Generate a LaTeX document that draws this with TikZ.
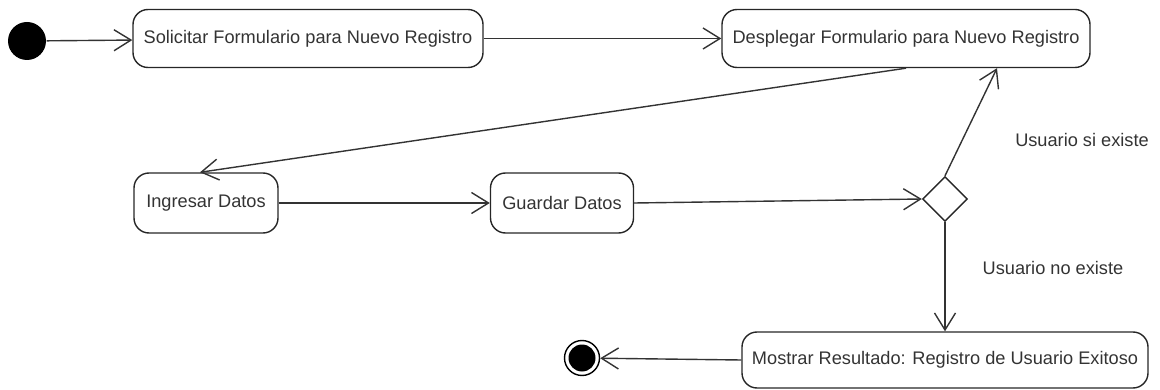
\documentclass[tikz,border=0pt]{standalone}
\usepackage{fontspec}
\setmainfont{Liberation Sans}
\usetikzlibrary{arrows.meta,shapes.geometric}
\begin{document}
\begin{tikzpicture}[x=1pt,y=-1pt,
  line width=1.4pt,
  font=\fontsize{18.2}{21}\selectfont,
  act/.style={draw=black!85, rounded corners=15pt, text=black!80, inner sep=0pt},
  flow/.style={draw=black!80, -{Straight Barb[length=17pt,width=21pt,line width=1.4pt]}},
  lbl/.style={text=black!80, inner sep=0pt}]
\useasboundingbox (0,0) rectangle (1160,390);

% initial and final nodes
\node[circle, fill=black, minimum size=38pt, inner sep=0pt] (start) at (27,41) {};
\node[circle, draw=black, line width=1.4pt, minimum size=35pt, inner sep=0pt] (stop) at (582,358) {};
\fill[black] (stop.center) circle (13.5pt);

% activities
\node[act, minimum width=350pt, minimum height=58pt] (solicitar) at (308,38.5) {Solicitar Formulario para Nuevo Registro};
\node[act, minimum width=368pt, minimum height=58pt] (desplegar) at (906,38.5) {Desplegar Formulario para Nuevo Registro};
\node[act, minimum width=144pt, minimum height=60pt] (ingresar) at (206,203) {Ingresar Datos};
\node[act, minimum width=143pt, minimum height=60pt] (guardar) at (562,203) {Guardar Datos};
\node[act, minimum width=406pt, minimum height=56pt] (mostrar) at (945,360) {Mostrar Resultado: Registro de Usuario Exitoso};

% decision
\node[diamond, draw=black!85, minimum width=45pt, minimum height=45pt, inner sep=0pt] (dec) at (945,199) {};

% control flows
\draw[flow] (start) -- (solicitar);
\draw[flow] (solicitar) -- (desplegar);
\draw[flow] (desplegar.south) -- ([xshift=-6pt]ingresar.north);
\draw[flow] (ingresar) -- (guardar);
\draw[flow] (guardar.east) -- (dec.west);
\draw[flow] (dec.north) -- ([xshift=91pt]desplegar.south);
\draw[flow] (dec.south) -- (mostrar.north);
\draw[flow] (mostrar.west) -- (stop);

% guard labels
\node[lbl] (si) at (1082,140) {Usuario si existe};
\node[lbl] (no) at (1053,268) {Usuario no existe};
\end{tikzpicture}
\end{document}
